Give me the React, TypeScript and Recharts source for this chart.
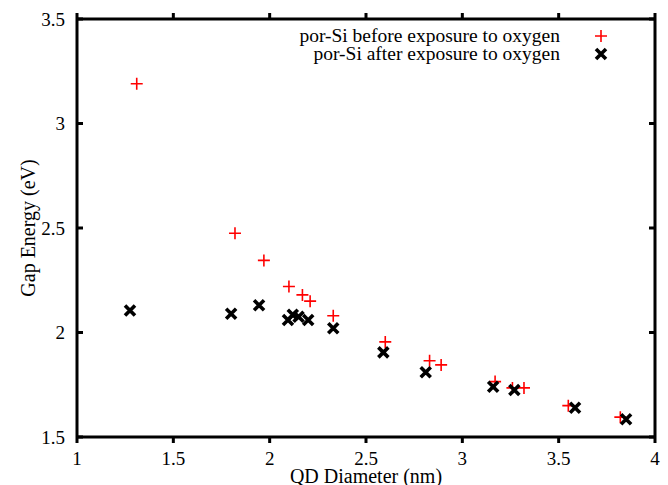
import { ScatterChart, Scatter, XAxis, YAxis } from 'recharts';

// por-Si gap energy vs quantum dot diameter
const beforeDiam = [1.31, 1.82, 1.97, 2.1, 2.17, 2.21, 2.33, 2.6, 2.83, 2.89, 3.17, 3.26, 3.32, 3.55, 3.82];
const beforeGap = [3.19, 2.475, 2.345, 2.22, 2.18, 2.15, 2.08, 1.955, 1.865, 1.845, 1.765, 1.735, 1.735, 1.65, 1.595];
const afterDiam = [1.275, 1.8, 1.945, 2.095, 2.12, 2.15, 2.2, 2.33, 2.59, 2.81, 3.16, 3.27, 3.585, 3.85];
const afterGap = [2.105, 2.09, 2.13, 2.06, 2.085, 2.075, 2.06, 2.02, 1.905, 1.81, 1.74, 1.725, 1.64, 1.585];
const seriesNames = ['por-Si before exposure to oxygen', 'por-Si after exposure to oxygen'];
const xTicks = [1, 1.5, 2, 2.5, 3, 3.5, 4];
const yTicks = [1.5, 2, 2.5, 3, 3.5];

const beforeData = beforeDiam.map((d, i) => ({ d, gap: beforeGap[i] }));
const afterData = afterDiam.map((d, i) => ({ d, gap: afterGap[i] }));

const FONT = 'Liberation Serif';

const PlusMark = ({ cx, cy }: any) => (
   <path d={`M${cx - 6},${cy}h12M${cx},${cy - 6}v12`} stroke="#ff0000" strokeWidth={1.6} fill="none" />
);

const CrossMark = ({ cx, cy }: any) => (
   <path
      d={`M${cx - 5},${cy - 5}L${cx + 5},${cy + 5}M${cx - 5},${cy + 5}L${cx + 5},${cy - 5}`}
      stroke="#000"
      strokeWidth={3.6}
      fill="none"
   />
);

const tickStyle = { fontSize: 19, fill: '#000', fontFamily: FONT };
const titleStyle = { fontSize: 20, fill: '#000', fontFamily: FONT };

function KeyBox() {
   return (
      <div style={{ position: 'absolute', left: 250, top: 27, width: 360, fontFamily: FONT, fontSize: 19.5, color: '#000' }}>
         {seriesNames.map((name, i) => (
            <div key={name} style={{ display: 'flex', justifyContent: 'flex-end', alignItems: 'center', height: 18 }}>
               <span style={{ lineHeight: '18px' }}>{name}</span>
               <svg width={50} height={18}>
                  {i === 0 ? <PlusMark cx={41} cy={9} /> : <CrossMark cx={41} cy={9} />}
               </svg>
            </div>
         ))}
      </div>
   );
}

export default function App() {
   return (
      <div style={{ position: 'absolute', left: 0, top: 0, width: 668, height: 485 }}>
         <ScatterChart width={668} height={485} margin={{ top: 0, right: 0, bottom: 0, left: 0 }}>
            <XAxis
               type="number"
               dataKey="d"
               domain={[1, 4]}
               ticks={xTicks}
               height={48}
               tickSize={6}
               tickMargin={9}
               tick={tickStyle}
               stroke="#000"
               strokeWidth={3}
               label={{ value: 'QD Diameter (nm)', position: 'insideBottom', offset: 2, style: titleStyle }}
            />
            <XAxis
               xAxisId="top"
               orientation="top"
               type="number"
               dataKey="d"
               domain={[1, 4]}
               ticks={xTicks}
               height={19}
               tickSize={6}
               tickFormatter={() => ''}
               stroke="#000"
               strokeWidth={3}
            />
            <YAxis
               type="number"
               dataKey="gap"
               domain={[1.5, 3.5]}
               ticks={yTicks}
               width={77}
               tickSize={-6}
               tickMargin={18}
               tick={tickStyle}
               stroke="#000"
               strokeWidth={3}
               label={{ value: 'Gap Energy (eV)', angle: -90, position: 'insideLeft', offset: 28, style: { ...titleStyle, textAnchor: 'middle' } }}
            />
            <YAxis
               yAxisId="right"
               orientation="right"
               type="number"
               dataKey="gap"
               domain={[1.5, 3.5]}
               ticks={yTicks}
               width={13}
               tickSize={-6}
               tickFormatter={() => ''}
               stroke="#000"
               strokeWidth={3}
            />
            <Scatter name={seriesNames[0]} data={beforeData} shape={PlusMark} isAnimationActive={false} />
            <Scatter
               name={seriesNames[1]}
               data={afterData}
               shape={CrossMark}
               xAxisId="top"
               yAxisId="right"
               isAnimationActive={false}
            />
         </ScatterChart>
         <KeyBox />
      </div>
   );
}
